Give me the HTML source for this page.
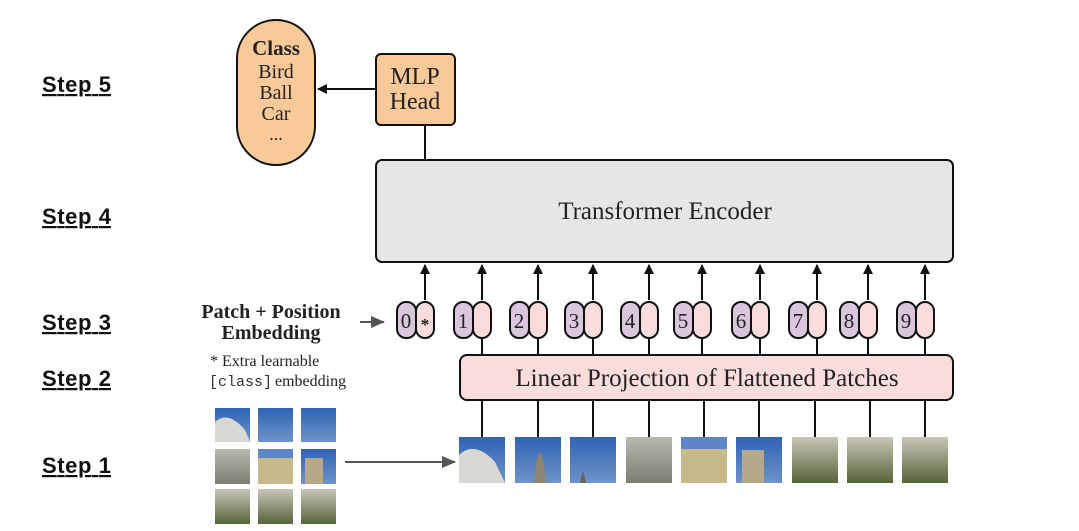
<!DOCTYPE html>
<html><head><meta charset="utf-8"><style>
html,body{margin:0;padding:0;background:#fff;}
svg{display:block;}
.step{font-family:"Liberation Sans",sans-serif;font-weight:bold;font-size:22px;text-decoration:underline;fill:#111;}
.serif{font-family:"Liberation Serif",serif;fill:#222;}
</style></head><body>
<svg width="1079" height="531" viewBox="0 0 1079 531" xmlns="http://www.w3.org/2000/svg">
<defs>
<marker id="ah" markerWidth="10" markerHeight="10" refX="9" refY="5" orient="auto" markerUnits="userSpaceOnUse"><path d="M0,0 L10,5 L0,10 z" fill="#111"/></marker>
<marker id="ag" markerWidth="14" markerHeight="12" refX="13" refY="6" orient="auto" markerUnits="userSpaceOnUse"><path d="M0,0 L14,6 L0,12 z" fill="#555"/></marker>
<linearGradient id="sky" x1="0" y1="0" x2="0" y2="1"><stop offset="0" stop-color="#2f63b5"/><stop offset="1" stop-color="#6f93c8"/></linearGradient>
<linearGradient id="bld" x1="0" y1="0" x2="0" y2="1"><stop offset="0" stop-color="#b8b8b0"/><stop offset="1" stop-color="#7d7d72"/></linearGradient>
<linearGradient id="grn" x1="0" y1="0" x2="0" y2="1"><stop offset="0" stop-color="#c9c6b8"/><stop offset="1" stop-color="#56643a"/></linearGradient>
</defs>
<text class="step" x="42" y="92" textLength="69">Step 5</text>
<text class="step" x="42" y="224" textLength="69">Step 4</text>
<text class="step" x="42" y="330" textLength="69">Step 3</text>
<text class="step" x="42" y="386" textLength="69">Step 2</text>
<text class="step" x="42" y="473" textLength="69">Step 1</text>

<rect x="237" y="20" width="78" height="145" rx="39" fill="#f9c99a" stroke="#111" stroke-width="2"/>
<text class="serif" x="276" y="55" font-size="21" font-weight="bold" text-anchor="middle">Class</text>
<text class="serif" x="276" y="78" font-size="20" text-anchor="middle">Bird</text>
<text class="serif" x="276" y="99" font-size="20" text-anchor="middle">Ball</text>
<text class="serif" x="276" y="120" font-size="20" text-anchor="middle">Car</text>
<text class="serif" x="276" y="140" font-size="18" text-anchor="middle">...</text>

<rect x="376" y="54" width="79" height="71" rx="5" fill="#f9c99a" stroke="#111" stroke-width="2"/>
<text class="serif" x="415" y="84" font-size="24" text-anchor="middle">MLP</text>
<text class="serif" x="415" y="109" font-size="24" text-anchor="middle">Head</text>
<line x1="376" y1="89" x2="318" y2="89" stroke="#111" stroke-width="2" marker-end="url(#ah)"/>
<line x1="425" y1="125" x2="425" y2="160" stroke="#111" stroke-width="2"/>

<rect x="376" y="160" width="577" height="102" rx="6" fill="#e6e6e6" stroke="#111" stroke-width="2"/>
<text class="serif" x="665" y="219" font-size="25" text-anchor="middle">Transformer Encoder</text>

<rect x="460" y="355" width="493" height="45" rx="7" fill="#fadcdc" stroke="#111" stroke-width="2"/>
<text class="serif" x="707" y="386" font-size="25" text-anchor="middle">Linear Projection of Flattened Patches</text>

<text class="serif" x="271" y="318" font-size="20" font-weight="bold" text-anchor="middle">Patch + Position</text>
<text class="serif" x="271" y="339" font-size="20" font-weight="bold" text-anchor="middle">Embedding</text>
<text class="serif" x="210" y="366" font-size="16">* Extra learnable</text>
<text x="209" y="386" font-size="15" style="font-family:'Liberation Mono',monospace;fill:#333">[class]</text>
<text class="serif" x="275" y="386" font-size="16">embedding</text>
<line x1="360" y1="322" x2="384" y2="322" stroke="#555" stroke-width="2" marker-end="url(#ag)"/>

<g stroke="#111" stroke-width="2" fill="none">
<line x1="425" y1="300" x2="425" y2="265" marker-end="url(#ah)"/>
<line x1="482" y1="300" x2="482" y2="265" marker-end="url(#ah)"/>
<line x1="538" y1="300" x2="538" y2="265" marker-end="url(#ah)"/>
<line x1="593" y1="300" x2="593" y2="265" marker-end="url(#ah)"/>
<line x1="649" y1="300" x2="649" y2="265" marker-end="url(#ah)"/>
<line x1="702" y1="300" x2="702" y2="265" marker-end="url(#ah)"/>
<line x1="760" y1="300" x2="760" y2="265" marker-end="url(#ah)"/>
<line x1="817" y1="300" x2="817" y2="265" marker-end="url(#ah)"/>
<line x1="868" y1="300" x2="868" y2="265" marker-end="url(#ah)"/>
<line x1="925" y1="300" x2="925" y2="265" marker-end="url(#ah)"/>
<line x1="482" y1="338" x2="482" y2="355"/><line x1="538" y1="338" x2="538" y2="355"/><line x1="593" y1="338" x2="593" y2="355"/><line x1="649" y1="338" x2="649" y2="355"/><line x1="702" y1="338" x2="702" y2="355"/><line x1="760" y1="338" x2="760" y2="355"/><line x1="817" y1="338" x2="817" y2="355"/><line x1="868" y1="338" x2="868" y2="355"/><line x1="925" y1="338" x2="925" y2="355"/>
<line x1="482" y1="400" x2="482" y2="437"/><line x1="538" y1="400" x2="538" y2="437"/><line x1="593" y1="400" x2="593" y2="437"/><line x1="649" y1="400" x2="649" y2="437"/><line x1="704" y1="400" x2="704" y2="437"/><line x1="759" y1="400" x2="759" y2="437"/><line x1="815" y1="400" x2="815" y2="437"/><line x1="870" y1="400" x2="870" y2="437"/><line x1="925" y1="400" x2="925" y2="437"/>
</g>

<g stroke="#111" stroke-width="2">
<rect x="397" y="302" width="19" height="36" rx="9" fill="#d9c6dc"/><rect x="416" y="302" width="18" height="36" rx="9" fill="#fadcdc"/>
<rect x="454" y="302" width="19" height="36" rx="9" fill="#d9c6dc"/><rect x="473" y="302" width="18" height="36" rx="9" fill="#fadcdc"/>
<rect x="510" y="302" width="19" height="36" rx="9" fill="#d9c6dc"/><rect x="529" y="302" width="18" height="36" rx="9" fill="#fadcdc"/>
<rect x="565" y="302" width="19" height="36" rx="9" fill="#d9c6dc"/><rect x="584" y="302" width="18" height="36" rx="9" fill="#fadcdc"/>
<rect x="621" y="302" width="19" height="36" rx="9" fill="#d9c6dc"/><rect x="640" y="302" width="18" height="36" rx="9" fill="#fadcdc"/>
<rect x="674" y="302" width="19" height="36" rx="9" fill="#d9c6dc"/><rect x="693" y="302" width="18" height="36" rx="9" fill="#fadcdc"/>
<rect x="732" y="302" width="19" height="36" rx="9" fill="#d9c6dc"/><rect x="751" y="302" width="18" height="36" rx="9" fill="#fadcdc"/>
<rect x="789" y="302" width="19" height="36" rx="9" fill="#d9c6dc"/><rect x="808" y="302" width="18" height="36" rx="9" fill="#fadcdc"/>
<rect x="840" y="302" width="19" height="36" rx="9" fill="#d9c6dc"/><rect x="859" y="302" width="18" height="36" rx="9" fill="#fadcdc"/>
<rect x="897" y="302" width="19" height="36" rx="9" fill="#d9c6dc"/><rect x="916" y="302" width="18" height="36" rx="9" fill="#fadcdc"/>
</g>
<g class="serif" font-size="21" text-anchor="middle">
<text x="406" y="328">0</text><text x="425" y="330" font-size="17" font-weight="bold">*</text>
<text x="463" y="328">1</text><text x="519" y="328">2</text><text x="574" y="328">3</text><text x="630" y="328">4</text><text x="683" y="328">5</text><text x="741" y="328">6</text><text x="798" y="328">7</text><text x="849" y="328">8</text><text x="906" y="328">9</text>
</g>

<g>
<rect x="459" y="437" width="46" height="46" fill="url(#sky)"/><path d="M459,483 L459,455 Q475,440 495,462 L505,483 z" fill="#d8d8d2"/>
<rect x="515" y="437" width="46" height="46" fill="url(#sky)"/><path d="M534,483 L536,462 L540,452 L544,462 L546,483 z" fill="#8a8470"/>
<rect x="570" y="437" width="46" height="46" fill="url(#sky)"/><path d="M580,483 L583,470 L586,483 z" fill="#6a6450"/>
<rect x="626" y="437" width="46" height="46" fill="url(#bld)"/>
<rect x="681" y="437" width="46" height="46" fill="#c7b98a"/><rect x="681" y="437" width="46" height="12" fill="#5d86c6"/>
<rect x="736" y="437" width="46" height="46" fill="url(#sky)"/><rect x="742" y="450" width="22" height="33" fill="#b6a98a"/>
<rect x="792" y="437" width="46" height="46" fill="url(#grn)"/>
<rect x="847" y="437" width="46" height="46" fill="url(#grn)"/>
<rect x="902" y="437" width="46" height="46" fill="url(#grn)"/>
</g>

<g>
<rect x="215" y="408" width="35" height="34" fill="url(#sky)"/><path d="M215,442 L215,422 Q228,410 245,430 L250,442 z" fill="#d8d8d2"/>
<rect x="258" y="408" width="35" height="34" fill="url(#sky)"/>
<rect x="301" y="408" width="35" height="34" fill="url(#sky)"/>
<rect x="215" y="449" width="35" height="35" fill="url(#bld)"/>
<rect x="258" y="449" width="35" height="35" fill="#c7b98a"/><rect x="258" y="449" width="35" height="9" fill="#5d86c6"/>
<rect x="301" y="449" width="35" height="35" fill="url(#sky)"/><rect x="305" y="458" width="18" height="26" fill="#b6a98a"/>
<rect x="215" y="489" width="35" height="35" fill="url(#grn)"/>
<rect x="258" y="489" width="35" height="35" fill="url(#grn)"/>
<rect x="301" y="489" width="35" height="35" fill="url(#grn)"/>
</g>
<line x1="345" y1="462" x2="455" y2="462" stroke="#555" stroke-width="2" marker-end="url(#ag)"/>
</svg>
</body></html>
